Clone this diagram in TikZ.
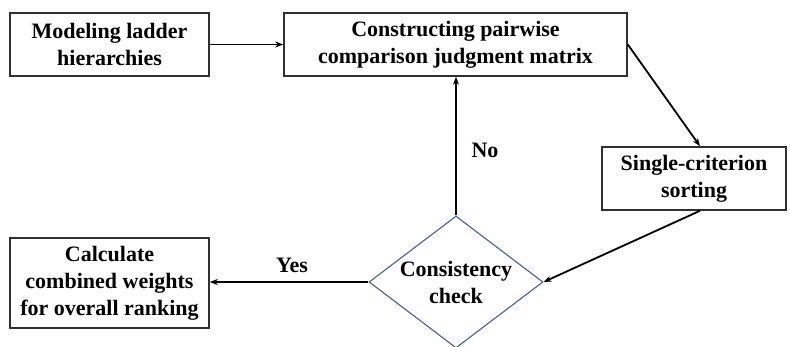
\documentclass[tikz,border=0pt]{standalone}
\usepackage{fontspec}
\setmainfont{Liberation Serif}[BoldFont={Liberation Serif Bold}]
\newfontfamily\diagfont{Liberation Serif Bold}
\usetikzlibrary{shapes.geometric,arrows.meta}
\definecolor{boxline}{HTML}{303030}
\definecolor{dialine}{HTML}{4A5E86}
\begin{document}
\begin{tikzpicture}[x=1pt,y=-1pt,
  every node/.style={font=\diagfont\fontsize{22}{27}\selectfont, align=center},
  procbox/.style={draw=boxline, line width=1.6pt, rectangle, inner sep=0pt},
  decbox/.style={draw=dialine, line width=1.1pt, diamond, inner sep=0pt, minimum width=174pt, minimum height=132pt},
  flow/.style={draw=black, line width=1.8pt, -{Stealth[length=8pt,width=6pt]}},
  lbl/.style={inner sep=0pt}]
\useasboundingbox (0,0) rectangle (790,347);
\node[procbox, minimum width=199pt, minimum height=63pt] (b1) at (109.5,44.5) {Modeling ladder\\hierarchies};
\node[procbox, minimum width=343pt, minimum height=63pt] (b2) at (455.5,44.5) {Constructing pairwise\\comparison judgment matrix};
\node[procbox, minimum width=184pt, minimum height=63pt] (b3) at (694,178.5) {Single-criterion\\sorting};
\node[procbox, minimum width=199pt, minimum height=90pt] (b4) at (109.5,283) {Calculate\\combined weights\\for overall ranking};
\node[decbox] (d) at (456,282) {};
\node (dt) at (d.center) {Consistency\\check};
\node[lbl] (yes) at (292,265) {Yes};
\node[lbl] (no) at (485,150) {No};
\draw[flow] (b1.east) -- (b2.west);
\draw[flow] (b2.east) -- ([xshift=6pt]b3.north);
\draw[flow] ([xshift=6pt]b3.south) -- (d.east);
\draw[flow] (d.north) -- (d.north |- b2.south);
\draw[flow] (d.west) -- (d.west -| b4.east);
\end{tikzpicture}
\end{document}
